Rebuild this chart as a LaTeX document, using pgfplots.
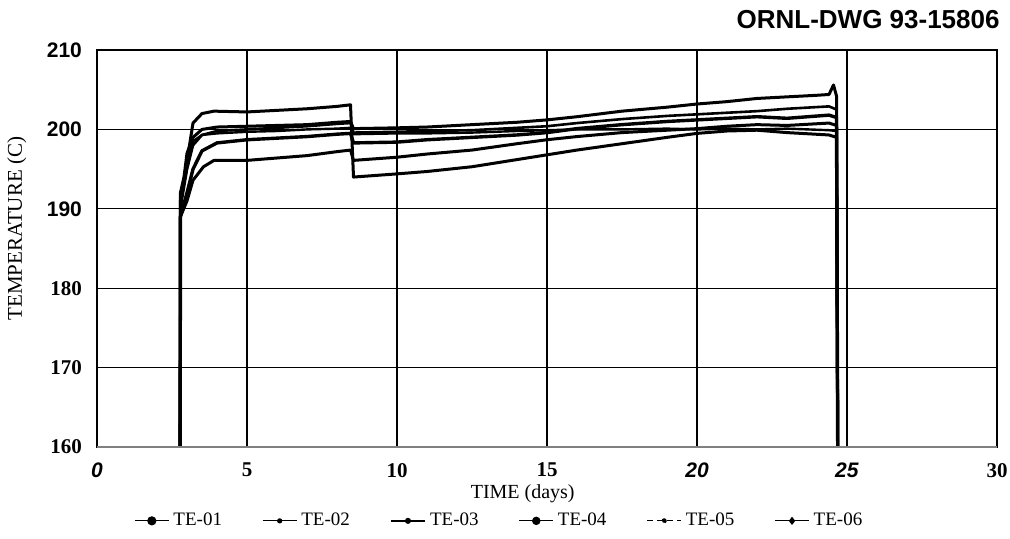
\documentclass[border=0pt]{standalone}
\usepackage{pgfplots}
\pgfplotsset{compat=1.18}
\usepackage{fontspec}
\setmainfont{Liberation Serif}
\setsansfont{Liberation Sans}
\begin{document}
\begin{tikzpicture}
\useasboundingbox (-48.5pt,-45.5pt) rectangle (456.5pt,223.5pt);
\begin{axis}[
  scale only axis, width=450pt, height=198.5pt,
  xmin=0, xmax=30, ymin=160, ymax=210,
  xtick={0,5,10,15,20,25,30},
  ytick={160,170,180,190,200,210},
  xticklabels={\textsf{\bfseries\itshape 0},\textbf{5},\textbf{10},\textbf{15},\textsf{\bfseries\itshape 20},\textsf{\bfseries\itshape 25},\textbf{30}},
  yticklabels={\textbf{160},\textbf{170},\textbf{180},\textsf{\bfseries 190},\textsf{\bfseries 200},\textsf{\bfseries 210}},
  tick label style={font=\fontsize{10.5}{12}\selectfont},
  xticklabel style={yshift=-4.5pt},
  yticklabel style={xshift=-4pt},
  major tick length=0pt,
  grid=major,
  x grid style={black, line width=1pt},
  y grid style={black, line width=0.5pt},
  axis line style={black, line width=0.6pt},
  xlabel={TIME (days)},
  ylabel={TEMPERATURE (C)},
  xlabel style={at={(axis description cs:0.473,-0.118)}, anchor=center, font=\fontsize{10}{12}\selectfont},
  ylabel style={at={(axis description cs:-0.089,0.55)}, anchor=center, font=\fontsize{10.5}{12}\selectfont},
  legend columns=6,
  legend style={at={(axis description cs:0.448,-0.186)}, anchor=center, draw=none, fill=none,
    font=\fontsize{9.5}{11}\selectfont, /tikz/every even column/.append style={column sep=18pt}},
  legend cell align=left,
  every axis plot/.append style={black, line width=1.5pt, mark=none, line join=round},
]
\addplot[legend image post style={mark=*, mark size=2pt, line width=0.6pt}] coordinates {
(2.70,150)(2.77,150)(2.78,192)(2.9,194)(3.0,197)(3.2,199)(3.5,200)(4,200.3)(5,200.4)(6,200.5)(7,200.6)(8,200.9)(8.45,201.0)
(8.55,200.1)(10,200.2)(11,200.3)(12.5,200.6)(14,200.9)(15,201.2)(16,201.6)(17.5,202.3)(19,202.8)(20,203.2)(21,203.5)(22,203.9)(23,204.1)(24,204.3)(24.4,204.4)(24.55,205.6)(24.65,204.2)(24.7,150)};
\addlegendentry{TE-01}
\addplot[line width=1.3pt, legend image post style={mark=*, mark size=1pt, line width=0.6pt}] coordinates {
(2.70,150)(2.77,150)(2.78,190)(3.0,195)(3.2,198)(3.5,199.3)(4,199.8)(5,200.0)(6,200.2)(7,200.4)(8,200.7)(8.45,200.8)
(8.55,199.6)(10,199.7)(11,199.8)(12.5,199.9)(14,200.2)(15,200.4)(16,200.8)(17.5,201.3)(19,201.7)(20,201.9)(21,202.1)(22,202.3)(23,202.6)(24.4,202.9)(24.65,202.5)(24.7,150)};
\addlegendentry{TE-02}
\addplot[line width=1.7pt, legend image post style={mark=*, mark size=1pt, line width=1pt}] coordinates {
(2.70,150)(2.77,150)(2.78,189)(3.0,192)(3.2,195)(3.5,197.3)(4,198.3)(5,198.7)(6,198.9)(7,199.1)(8,199.4)(8.45,199.5)
(8.55,198.3)(10,198.4)(11,198.7)(12.5,199.0)(14,199.3)(15,199.6)(16,200.1)(17.5,200.6)(19,201.0)(20,201.2)(21,201.4)(22,201.6)(23,201.4)(24.4,201.8)(24.65,201.5)(24.7,150)};
\addlegendentry{TE-03}
\addplot[legend image post style={mark=*, mark size=1.8pt, line width=0.6pt}] coordinates {
(2.70,150)(2.77,150)(2.78,189)(3.0,191)(3.2,193.6)(3.55,195.3)(3.9,196.1)(5,196.1)(6,196.4)(7,196.7)(8,197.2)(8.45,197.4)
(8.55,196.1)(10,196.5)(11,196.9)(12.5,197.4)(14,198.2)(15,198.7)(16,199.1)(17.5,199.6)(19,199.9)(20,200.1)(21,200.4)(22,200.6)(23,200.5)(24.4,200.8)(24.65,200.5)(24.7,150)};
\addlegendentry{TE-04}
\addplot[line width=1.2pt, legend image post style={mark=*, mark size=1pt, line width=0.6pt, densely dashed}] coordinates {
(2.70,150)(2.77,150)(2.78,191)(3.0,195)(3.2,198.5)(3.5,199.3)(4,199.5)(5,199.7)(6,199.8)(7,200.0)(8,200.1)(8.45,200.2)
(8.55,199.4)(10,199.5)(11,199.5)(12.5,199.6)(14,199.8)(15,199.9)(16,200.0)(17.5,200.0)(19,200.1)(20,200.0)(21,200.1)(22,200.0)(23,200.1)(24.4,199.9)(24.65,199.8)(24.7,150)};
\addlegendentry{TE-05}
\addplot[legend image post style={mark=diamond*, mark size=1.6pt, line width=0.6pt}] coordinates {
(2.70,150)(2.77,150)(2.78,191)(3.0,196)(3.2,200.8)(3.5,202)(3.9,202.3)(5,202.2)(6,202.4)(7,202.6)(8,202.9)(8.45,203.1)
(8.55,194.0)(10,194.4)(11,194.7)(12.5,195.3)(14,196.2)(15,196.8)(16,197.4)(17.5,198.2)(19,199.0)(20,199.5)(21,199.8)(22,199.9)(23,199.6)(24.4,199.3)(24.65,199.0)(24.7,150)};
\addlegendentry{TE-06}
\draw[gray, line width=1.2pt] (rel axis cs:0,0) -- (rel axis cs:1,0);
\end{axis}
\node[anchor=east, inner sep=0pt, font=\sffamily\bfseries\fontsize{13}{15}\selectfont] at (451.5pt,213.5pt) {ORNL-DWG 93-15806};
\end{tikzpicture}
\end{document}
